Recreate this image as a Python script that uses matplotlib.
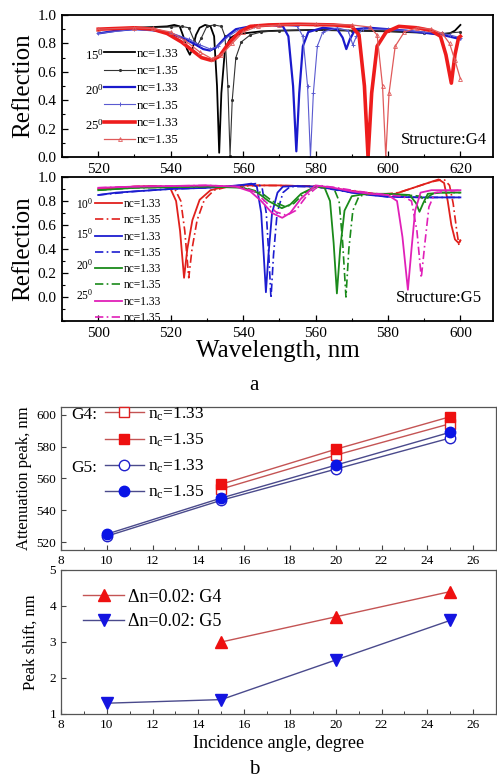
import numpy as np
import matplotlib.pyplot as plt
from matplotlib.lines import Line2D
from matplotlib.ticker import MultipleLocator

plt.rcParams['font.family'] = ['Liberation Serif', 'DejaVu Serif']
plt.rcParams['mathtext.fontset'] = 'custom'
plt.rcParams['mathtext.rm'] = 'Liberation Serif'
plt.rcParams['mathtext.it'] = 'Liberation Serif:italic'

# ---- (a) reflection spectra, structure G4 : (wavelength nm, reflection)
G4_15_133 = [(520, 0.90), (525, 0.905), (530, 0.91), (535, 0.915), (539, 0.92), (541, 0.93),
             (542.5, 0.92), (543.5, 0.85), (544.5, 0.76), (545.3, 0.72), (546, 0.76), (547, 0.86),
             (548, 0.91), (549.5, 0.93), (551, 0.92), (552, 0.85), (552.8, 0.50), (553.4, 0.03),
             (554, 0.45), (555, 0.76), (556.5, 0.84), (558, 0.86), (560, 0.87), (565, 0.885),
             (570, 0.89), (580, 0.895), (590, 0.89), (600, 0.885), (610, 0.875), (615, 0.865),
             (617, 0.87), (618.5, 0.89), (620, 0.93)]
G4_15_135 = [(520, 0.90), (530, 0.91), (540, 0.915), (543, 0.92), (545, 0.91), (546.5, 0.82),
             (547.5, 0.79), (548.5, 0.84), (550, 0.92), (552, 0.93), (554, 0.92), (555, 0.85),
             (555.8, 0.50), (556.4, 0.01), (557, 0.40), (558, 0.70), (559.5, 0.81), (562, 0.86),
             (565, 0.88), (570, 0.89), (580, 0.895), (590, 0.89), (600, 0.885), (610, 0.875),
             (615, 0.87), (620, 0.88)]
G4_20_133 = [(520, 0.87), (525, 0.89), (530, 0.90), (535, 0.895), (540, 0.87), (544, 0.83),
             (547, 0.79), (549, 0.76), (550.8, 0.75), (552.5, 0.77), (555, 0.84), (558, 0.90),
             (562, 0.92), (568, 0.93), (571, 0.92), (572.5, 0.85), (573.8, 0.50), (574.7, 0.04),
             (575.5, 0.45), (576.5, 0.78), (578, 0.88), (582, 0.91), (586, 0.90), (587.5, 0.84),
             (588.5, 0.76), (589.5, 0.83), (591, 0.90), (595, 0.91), (600, 0.90), (605, 0.89),
             (610, 0.875), (615, 0.86), (620, 0.83)]
G4_20_135 = [(520, 0.87), (530, 0.90), (540, 0.875), (545, 0.83), (548, 0.79), (551, 0.76),
             (553, 0.78), (556, 0.85), (559, 0.90), (563, 0.92), (570, 0.93), (575, 0.92),
             (576.5, 0.85), (577.8, 0.50), (578.6, 0.0), (579.4, 0.45), (580.5, 0.78), (582, 0.88),
             (586, 0.91), (589, 0.89), (590.3, 0.79), (591.3, 0.85), (593, 0.90), (600, 0.90),
             (610, 0.88), (615, 0.87), (617, 0.86), (620, 0.84)]
G4_25_133 = [(520, 0.90), (525, 0.905), (530, 0.91), (535, 0.90), (539, 0.87), (543, 0.81),
             (546, 0.75), (548.5, 0.70), (551.3, 0.68), (553.5, 0.71), (556, 0.80), (559, 0.88),
             (562, 0.92), (567, 0.93), (575, 0.935), (585, 0.93), (590, 0.92), (592, 0.86),
             (593.5, 0.50), (594.5, 0.0), (595.5, 0.45), (597, 0.78), (599.5, 0.88), (603, 0.92),
             (608, 0.91), (612, 0.89), (614.5, 0.85), (616, 0.72), (617.5, 0.52), (618.5, 0.72),
             (619.5, 0.84), (620, 0.85)]
G4_25_135 = [(520, 0.90), (530, 0.91), (535, 0.905), (540, 0.88), (544, 0.82), (548, 0.74),
             (551.5, 0.69), (554, 0.72), (557, 0.80), (560, 0.88), (564, 0.92), (570, 0.93),
             (580, 0.935), (590, 0.93), (595, 0.915), (597, 0.86), (598.5, 0.50), (599.4, 0.0),
             (600.3, 0.45), (602, 0.78), (604.5, 0.88), (608, 0.91), (612, 0.90), (615, 0.87),
             (617, 0.80), (618.5, 0.68), (620, 0.55)]

# ---- (a) reflection spectra, structure G5
G5_10_133 = [(500, 0.90), (505, 0.91), (510, 0.92), (515, 0.925), (518, 0.92), (520, 0.90),
             (521.5, 0.80), (522.6, 0.55), (523.7, 0.16), (524.6, 0.40), (526, 0.64), (528, 0.81),
             (531, 0.89), (535, 0.92), (540, 0.93), (550, 0.93), (560, 0.92), (570, 0.88),
             (578, 0.85), (582, 0.86), (586, 0.90), (590, 0.94), (594, 0.98), (595.5, 0.95),
             (596.5, 0.80), (597.5, 0.60), (598.5, 0.48), (599.5, 0.45), (600, 0.47)]
G5_10_135 = [(500, 0.90), (510, 0.92), (518, 0.925), (521, 0.91), (522.8, 0.80), (523.9, 0.55),
             (525.0, 0.16), (525.9, 0.40), (527.3, 0.64), (529.3, 0.81), (532, 0.89), (536, 0.92),
             (545, 0.93), (560, 0.925), (570, 0.885), (578, 0.855), (583, 0.87), (588, 0.92),
             (592, 0.96), (595.5, 0.98), (597, 0.93), (598, 0.78), (599, 0.55), (599.6, 0.43),
             (600, 0.48)]
G5_15_133 = [(500, 0.85), (505, 0.87), (510, 0.88), (515, 0.89), (520, 0.90), (530, 0.91),
             (535, 0.92), (540, 0.935), (542.3, 0.945), (543.8, 0.92), (545, 0.70), (545.7, 0.35),
             (546.3, 0.04), (547, 0.35), (548, 0.70), (549.5, 0.87), (551, 0.92), (555, 0.925),
             (560, 0.92), (565, 0.90), (570, 0.87), (575, 0.85), (580, 0.835), (590, 0.83),
             (600, 0.83)]
G5_15_135 = [(500, 0.85), (510, 0.88), (520, 0.90), (530, 0.91), (540, 0.93), (543.5, 0.945),
             (545.2, 0.92), (546.4, 0.70), (547.1, 0.35), (547.7, -0.01), (548.4, 0.35),
             (549.4, 0.70), (551, 0.87), (553, 0.92), (560, 0.92), (570, 0.87), (580, 0.835),
             (590, 0.83), (600, 0.83)]
G5_20_133 = [(500, 0.89), (510, 0.91), (520, 0.915), (530, 0.92), (540, 0.91), (544, 0.87),
             (547, 0.80), (550.7, 0.74), (553, 0.77), (556, 0.86), (560, 0.92), (562.5, 0.91),
             (564, 0.80), (565, 0.45), (565.9, 0.03), (566.8, 0.40), (568, 0.72), (570, 0.84),
             (574, 0.86), (580, 0.86), (586, 0.85), (587.8, 0.78), (588.7, 0.71), (589.7, 0.78),
             (591, 0.86), (595, 0.87), (600, 0.87)]
G5_20_135 = [(500, 0.89), (510, 0.91), (520, 0.915), (530, 0.92), (540, 0.915), (545, 0.87),
             (548, 0.80), (551.8, 0.75), (554, 0.78), (557, 0.87), (561, 0.92), (565, 0.91),
             (566.5, 0.80), (567.5, 0.45), (568.4, 0.0), (569.2, 0.40), (570.3, 0.72), (572, 0.84),
             (575, 0.86), (585, 0.85), (589, 0.84), (590.3, 0.79), (591.3, 0.84), (593, 0.87),
             (600, 0.87)]
G5_25_133 = [(500, 0.91), (510, 0.92), (520, 0.925), (530, 0.93), (538, 0.92), (542, 0.88),
             (545, 0.80), (548, 0.70), (550.8, 0.66), (553, 0.70), (556, 0.82), (560, 0.93),
             (565, 0.91), (570, 0.88), (575, 0.86), (580, 0.85), (582.5, 0.80), (584, 0.50),
             (585.5, 0.06), (586.5, 0.40), (587.5, 0.72), (589, 0.87), (592, 0.89), (600, 0.89)]
G5_25_135 = [(500, 0.91), (510, 0.92), (520, 0.925), (530, 0.93), (539, 0.92), (543, 0.88),
             (546, 0.80), (549, 0.71), (552, 0.68), (554.5, 0.72), (557.5, 0.84), (561, 0.93),
             (566, 0.91), (572, 0.88), (580, 0.85), (584, 0.84), (586.5, 0.80), (588, 0.55),
             (589.2, 0.16), (590.2, 0.45), (591.3, 0.75), (593, 0.87), (600, 0.89)]

G4_ANGLES = ['15', '20', '25']
G5_ANGLES = ['10', '15', '20', '25']
NC_LABELS = ['nc=1.33', 'nc=1.35']

# ---- (b) attenuation peak position and shift vs incidence angle
ANGLE_G4 = [15, 20, 25]
ANGLE_G5 = [10, 15, 20, 25]
PEAK_G4_133 = [553.4, 574.7, 594.5]
PEAK_G4_135 = [556.4, 578.4, 598.9]
PEAK_G5_133 = [523.7, 546.3, 565.9, 585.5]
PEAK_G5_135 = [525.0, 547.7, 568.4, 589.1]
SHIFT_G4 = [3.0, 3.7, 4.4]
SHIFT_G5 = [1.3, 1.4, 2.5, 3.6]

W, H = 497, 783
fig = plt.figure(figsize=(W / 100, H / 100), dpi=100)


def ax_box(left, top, right, bottom):
    return fig.add_axes([left / W, 1 - bottom / H, (right - left) / W, (bottom - top) / H])


def xy(curve):
    a = np.array(curve)
    return a[:, 0], a[:, 1]


def spec_axes(ax):
    ax.tick_params(direction='in', labelsize=11, length=4, width=0.9, pad=4)
    ax.tick_params(which='minor', direction='in', length=2.5, width=0.8)
    ax.xaxis.set_major_locator(MultipleLocator(20))
    ax.xaxis.set_minor_locator(MultipleLocator(10))
    ax.yaxis.set_minor_locator(MultipleLocator(0.1))
    for s in ax.spines.values():
        s.set_linewidth(1.3)


# ---------- top panel : G4
ax1 = ax_box(62, 15, 493, 157)
g4_styles = [
    dict(color='black', lw=1.3),
    dict(color='#333333', lw=0.8, marker='.', ms=2.5),
    dict(color='#1a1acc', lw=1.6),
    dict(color='#5a5ad0', lw=0.8, marker='+', ms=3, mew=0.7),
    dict(color='#ee1c1c', lw=2.6),
    dict(color='#e05a5a', lw=0.9, marker='^', ms=2.8, mfc='none', mew=0.6),
]
g4_curves = [G4_15_133, G4_15_135, G4_20_133, G4_20_135, G4_25_133, G4_25_135]
handles = []
for curve, st in zip(g4_curves, g4_styles):
    x, y = xy(curve)
    ax1.plot(x, y, **st)
    handles.append(Line2D([], [], **st))
ax1.set_xlim(510, 629)
ax1.set_ylim(0, 1.0)
ax1.yaxis.set_major_locator(MultipleLocator(0.2))
spec_axes(ax1)
ax1.set_ylabel('Reflection', fontsize=18, labelpad=2)
ax1.legend(handles, NC_LABELS * 3, loc='upper left', bbox_to_anchor=(0.098, 0.77),
           frameon=False, fontsize=9.2, handlelength=2.4, handletextpad=0.15,
           labelspacing=0.42, borderpad=0, borderaxespad=0, numpoints=1)
for i, ang in enumerate(G4_ANGLES):
    ax1.text(0.097, 0.718 - i * 0.247, ang + r'$^{\rm 0}$', transform=ax1.transAxes,
             ha='right', va='center', fontsize=9.2)
ax1.text(0.985, 0.12, 'Structure:G4', transform=ax1.transAxes, ha='right',
         va='center', fontsize=12)

# ---------- middle panel : G5
ax2 = ax_box(62, 177, 493, 321)
g5_colors = ['#e0201c', '#1c1cd0', '#1a8a1a', '#e020b8']
g5_curves = [(G5_10_133, G5_10_135), (G5_15_133, G5_15_135),
             (G5_20_133, G5_20_135), (G5_25_133, G5_25_135)]
handles = []
for (c133, c135), col in zip(g5_curves, g5_colors):
    x, y = xy(c133)
    ax2.plot(x, y, color=col, lw=1.3)
    x, y = xy(c135)
    ax2.plot(x, y, color=col, lw=1.2, ls=(0, (5, 2, 1, 2)))
    handles.append(Line2D([], [], color=col, lw=1.3))
    handles.append(Line2D([], [], color=col, lw=1.2, ls=(0, (5, 2, 1, 2))))
ax2.set_xlim(490, 609)
ax2.set_ylim(-0.2, 1.0)
ax2.set_yticks([0.0, 0.2, 0.4, 0.6, 0.8, 1.0])
spec_axes(ax2)
ax2.set_ylabel('Reflection', fontsize=18, labelpad=2)
ax2.set_xlabel('Wavelength, nm', fontsize=18, labelpad=0)
ax2.legend(handles, NC_LABELS * 4, loc='upper left', bbox_to_anchor=(0.076, 0.853),
           frameon=False, fontsize=8.3, handlelength=2.4, handletextpad=0.15,
           labelspacing=0.37, borderpad=0, borderaxespad=0)
for i, ang in enumerate(G5_ANGLES):
    ax2.text(0.072, 0.8125 - i * 0.2125, ang + r'$^{\rm 0}$', transform=ax2.transAxes,
             ha='right', va='center', fontsize=8.3)
ax2.text(0.975, 0.16, 'Structure:G5', transform=ax2.transAxes, ha='right',
         va='center', fontsize=12)
fig.text(254 / W, 1 - 385 / H, 'a', ha='center', va='center', fontsize=15)


def b_axes(ax):
    ax.tick_params(direction='in', labelsize=9.5, length=3.5, width=0.8, color='#444444')
    ax.tick_params(which='minor', direction='in', length=2, width=0.7, color='#444444')
    ax.xaxis.set_major_locator(MultipleLocator(2))
    ax.xaxis.set_minor_locator(MultipleLocator(1))
    ax.set_xlim(8, 27)
    for s in ax.spines.values():
        s.set_linewidth(0.9)
        s.set_color('#555555')


# ---------- (b) attenuation peak
G4_LINE = '#c45454'
G5_LINE = '#4a4a8c'
ax3 = ax_box(61, 407, 496, 550)
h1, = ax3.plot(ANGLE_G4, PEAK_G4_133, color=G4_LINE, lw=1, marker='s', ms=7,
               mfc='white', mec='#dd2020', mew=1)
h2, = ax3.plot(ANGLE_G4, PEAK_G4_135, color=G4_LINE, lw=1, marker='s', ms=7,
               mfc='#ee1010', mec='#ee1010')
h3, = ax3.plot(ANGLE_G5, PEAK_G5_133, color=G5_LINE, lw=1, marker='o', ms=7.5,
               mfc='white', mec='#2020cc', mew=1)
h4, = ax3.plot(ANGLE_G5, PEAK_G5_135, color=G5_LINE, lw=1, marker='o', ms=7.5,
               mfc='#0a14e6', mec='#0a14e6')
ax3.set_ylim(515, 605)
ax3.yaxis.set_major_locator(MultipleLocator(20))
b_axes(ax3)
ax3.set_ylabel('Attenuation peak, nm', fontsize=12, labelpad=3)
ax3.legend([h1, h2, h3, h4], [r'n$_{\rm c}$=1.33', r'n$_{\rm c}$=1.35'] * 2,
           loc='upper left', bbox_to_anchor=(0.1, 1.01), frameon=False, fontsize=12.5,
           handlelength=2.3, handletextpad=0.2, labelspacing=0.5, borderpad=0,
           borderaxespad=0, numpoints=1)
ax3.text(0.024, 0.944, 'G4:', transform=ax3.transAxes, va='center', fontsize=12.5)
ax3.text(0.024, 0.57, 'G5:', transform=ax3.transAxes, va='center', fontsize=12.5)

# ---------- (b) peak shift
ax4 = ax_box(61, 570, 496, 714)
h5, = ax4.plot(ANGLE_G4, SHIFT_G4, color=G4_LINE, lw=1, marker='^', ms=9,
               mfc='#ee1010', mec='#ee1010')
h6, = ax4.plot(ANGLE_G5, SHIFT_G5, color=G5_LINE, lw=1, marker='v', ms=9,
               mfc='#1414e0', mec='#1414e0')
ax4.set_ylim(1, 5)
ax4.yaxis.set_major_locator(MultipleLocator(1))
b_axes(ax4)
ax4.set_ylabel('Peak shift, nm', fontsize=12, labelpad=8)
ax4.set_xlabel('Incidence angle, degree', fontsize=13, labelpad=3)
ax4.legend([h5, h6], ['Δn=0.02: G4', 'Δn=0.02: G5'], loc='upper left',
           bbox_to_anchor=(0.05, 0.87), frameon=False, fontsize=13, handlelength=2.3,
           handletextpad=0.2, labelspacing=0.4, borderpad=0, borderaxespad=0, numpoints=1)
fig.text(254 / W, 1 - 770 / H, 'b', ha='center', va='center', fontsize=15)

fig.savefig('out.png', dpi=100)
